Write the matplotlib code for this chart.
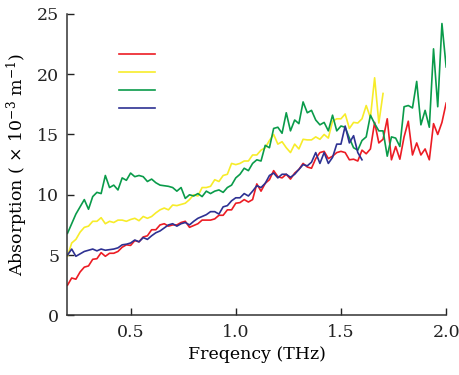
import numpy as np
import matplotlib
matplotlib.use('Agg')
import matplotlib.pyplot as plt

# absorption spectra (x 10^-3 m^-1), sampled every 0.02 THz from 0.2 THz
f_start = 0.2
f_step = 0.02

red = [2.5, 3.1, 3.0, 3.6, 4.0, 4.1, 4.65, 4.7, 5.2, 4.9,
       5.15, 5.15, 5.3, 5.65, 5.85, 5.8, 6.2, 6.1, 6.5, 6.6,
       7.1, 7.1, 7.5, 7.6, 7.4, 7.5, 7.5, 7.7, 7.8, 7.3,
       7.45, 7.6, 7.9, 7.9, 7.9, 8.0, 8.3, 8.3, 8.75, 8.75,
       9.3, 9.35, 9.6, 9.4, 9.6, 10.9, 10.3, 10.95, 11.25, 12.0,
       11.5, 11.4, 11.7, 11.3, 11.8, 12.1, 12.6, 12.3, 12.2, 13.0,
       13.5, 13.6, 13.0, 13.2, 13.5, 13.6, 13.5, 12.9, 12.95, 12.8,
       13.7, 13.4, 13.8, 16.0, 14.3, 14.6, 16.3, 12.9, 14.0, 12.95,
       14.8, 16.1, 13.3, 14.3, 13.3, 13.8, 12.9, 15.9, 15.0, 16.0,
       17.6]

yellow = [4.9, 6.0, 6.3, 6.9, 7.3, 7.4, 7.8, 7.8, 8.1, 7.6,
          7.8, 7.7, 7.9, 7.9, 7.8, 7.95, 8.05, 7.85, 8.2, 8.05,
          8.2, 8.5, 8.75, 8.9, 8.75, 9.15, 9.1, 9.2, 9.3, 9.6,
          10.0, 9.9, 10.6, 10.6, 10.7, 11.25, 11.1, 11.6, 11.7, 12.6,
          12.5, 12.6, 12.8, 12.8, 13.3, 13.3, 13.7, 13.9, 14.5, 15.0,
          14.2, 14.4, 13.9, 13.5, 14.2, 13.8, 14.6, 14.55, 14.55, 14.8,
          14.6, 15.0, 14.7, 16.1, 16.3, 16.3, 16.7, 15.5, 16.0, 15.95,
          16.3, 17.4, 16.4, 19.7, 15.95, 18.4]

green = [6.8, 7.6, 8.4, 9.0, 9.6, 8.8, 9.85, 10.2, 10.1, 11.6,
         10.6, 10.8, 10.4, 11.4, 11.2, 11.8, 11.5, 11.6, 11.5, 11.1,
         11.3, 11.0, 10.8, 10.75, 10.7, 10.6, 10.3, 10.6, 9.7, 10.0,
         9.9, 10.1, 9.85, 10.3, 10.1, 10.3, 10.4, 10.2, 10.6, 10.8,
         11.4, 11.7, 12.2, 12.0, 12.6, 12.9, 12.8, 14.1, 13.9, 15.5,
         15.6, 15.1, 16.8, 15.3, 16.2, 15.9, 17.7, 16.8, 17.0, 16.2,
         15.8, 16.0, 15.3, 16.6, 15.3, 15.7, 15.6, 14.7, 13.9, 13.7,
         14.5, 14.8, 16.6, 15.9, 15.3, 15.3, 13.2, 14.8, 14.7, 14.0,
         17.3, 17.4, 17.2, 19.4, 15.8, 17.0, 15.6, 22.1, 17.3, 24.2,
         20.6]

blue = [5.0, 5.5, 4.9, 5.1, 5.3, 5.4, 5.5, 5.35, 5.5, 5.4,
        5.45, 5.5, 5.6, 5.85, 5.9, 6.0, 6.25, 6.1, 6.45, 6.3,
        6.6, 6.85, 7.0, 7.25, 7.5, 7.6, 7.4, 7.6, 7.7, 7.5,
        7.8, 8.05, 8.2, 8.35, 8.6, 8.6, 8.4, 9.0, 9.1, 9.5,
        9.75, 9.75, 10.1, 9.9, 10.3, 10.75, 10.6, 10.95, 11.6, 11.8,
        11.4, 11.7, 11.7, 11.45, 11.7, 12.1, 12.5, 12.4, 12.7, 13.5,
        12.6, 13.5, 12.6, 13.1, 14.2, 14.2, 15.7, 14.3, 14.9, 13.5,
        12.9]

series = [red, yellow, green, blue]
colors = ['#ec1c24', '#f7ec2a', '#0a9b4a', '#2e3192']

x_ticks = [0.5, 1.0, 1.5, 2.0]
x_ticklabels = ['0.5', '1.0', '1.5', '2.0']
y_ticks = [0, 5, 10, 15, 20, 25]

plt.rcParams['font.family'] = 'DejaVu Serif'
plt.rcParams['mathtext.fontset'] = 'dejavuserif'

fig = plt.figure(figsize=(4.59, 3.75), dpi=100)
ax = fig.add_axes([0.147, 0.159, 0.825, 0.804])

handles = []
for s, c in zip(series, colors):
    f = f_start + f_step * np.arange(len(s))
    line, = ax.plot(f, s, color=c, lw=1.2)
    handles.append(line)

ax.set_xlim(0.2, 2.0)
ax.set_ylim(0, 25)
ax.set_xticks(x_ticks)
ax.set_xticklabels(x_ticklabels)
ax.set_yticks(y_ticks)
ax.tick_params(direction='in', length=5, width=1.0, labelsize=12.5, colors='#222222', pad=6)
for side in ['top', 'right']:
    ax.spines[side].set_visible(False)
for side in ['left', 'bottom']:
    ax.spines[side].set_linewidth(1.1)
    ax.spines[side].set_color('#333333')

ax.set_xlabel('Freqency (THz)', fontsize=12.5, labelpad=4)
ax.set_ylabel(r'Absorption ( $\times$ 10$^{-3}$ m$^{-1}$)', fontsize=12.5, labelpad=5)

leg = ax.legend(handles, [' '] * 4, loc='upper left', bbox_to_anchor=(0.101, 0.931),
                frameon=False, handlelength=2.3, labelspacing=0.25, fontsize=11)

fig.savefig('out.png', dpi=100)
